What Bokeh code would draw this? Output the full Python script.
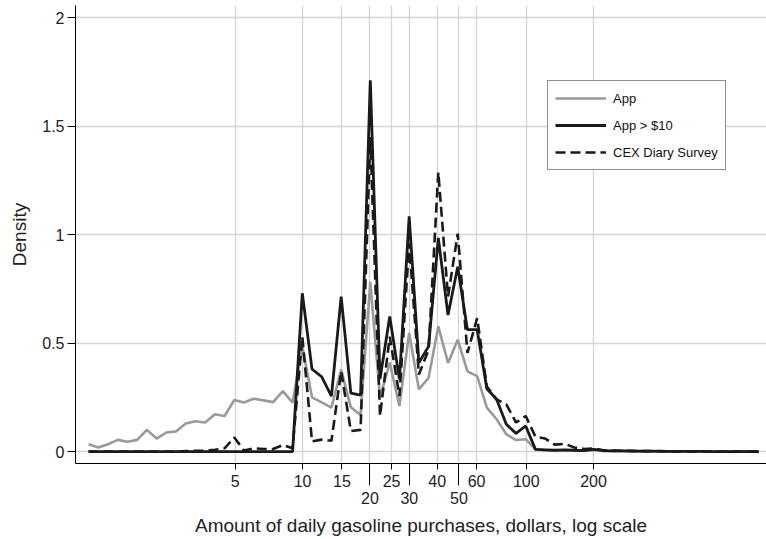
import numpy as np
from bokeh.plotting import figure
from bokeh.models import FixedTicker, Range1d
from bokeh.embed import file_html
from bokeh.resources import INLINE

# bins on natural-log scale of dollar amount
log_amount = [0.1, 0.2, 0.3, 0.4, 0.5, 0.6, 0.7, 0.8, 0.9, 1.0,
              1.1, 1.2, 1.3, 1.4, 1.5, 1.6, 1.7, 1.8, 1.9, 2.0,
              2.1, 2.2, 2.3, 2.4, 2.5, 2.6, 2.7, 2.8, 2.9, 3.0,
              3.1, 3.2, 3.3, 3.4, 3.5, 3.6, 3.7, 3.8, 3.9, 4.0,
              4.1, 4.2, 4.3, 4.4, 4.5, 4.6, 4.7, 4.8, 4.9, 5.0,
              5.1, 5.2, 5.3, 5.4, 5.5, 5.6, 5.7, 5.8, 5.9, 6.0,
              6.1, 6.2, 6.3, 6.4, 6.5, 6.6, 6.7, 6.8, 6.9, 7.0]

app = [0.034, 0.019, 0.034, 0.054, 0.045, 0.054, 0.100, 0.060, 0.088, 0.093,
       0.129, 0.140, 0.134, 0.172, 0.164, 0.238, 0.226, 0.244, 0.236, 0.228,
       0.279, 0.226, 0.485, 0.250, 0.227, 0.203, 0.378, 0.204, 0.169, 0.783,
       0.250, 0.410, 0.210, 0.547, 0.287, 0.340, 0.577, 0.409, 0.516, 0.370,
       0.348, 0.203, 0.149, 0.080, 0.053, 0.057, 0.010, 0.006, 0.005, 0.006,
       0.004, 0.004, 0.008, 0.003, 0.002, 0.002, 0.002, 0.001, 0.001, 0.001,
       0.001, 0.001, 0.001, 0.0, 0.0, 0.0, 0.0, 0.0, 0.0, 0.0]

app_over10 = [0.0, 0.0, 0.0, 0.0, 0.0, 0.0, 0.0, 0.0, 0.0, 0.0,
              0.0, 0.0, 0.0, 0.0, 0.0, 0.0, 0.0, 0.0, 0.0, 0.0,
              0.0, 0.0, 0.730, 0.380, 0.345, 0.256, 0.715, 0.270, 0.260, 1.712,
              0.335, 0.623, 0.333, 1.085, 0.410, 0.485, 0.985, 0.630, 0.852, 0.562,
              0.562, 0.290, 0.241, 0.126, 0.084, 0.118, 0.010, 0.008, 0.006, 0.008,
              0.006, 0.005, 0.010, 0.004, 0.003, 0.003, 0.002, 0.002, 0.002, 0.001,
              0.001, 0.001, 0.001, 0.001, 0.0, 0.0, 0.0, 0.0, 0.0, 0.0]

cex = [0.0, 0.0, 0.0, 0.0, 0.0, 0.0, 0.0, 0.0, 0.0, 0.0,
       0.002, 0.004, 0.004, 0.008, 0.015, 0.065, 0.005, 0.015, 0.012, 0.012,
       0.030, 0.015, 0.530, 0.047, 0.055, 0.050, 0.370, 0.095, 0.100, 1.450,
       0.164, 0.530, 0.256, 0.960, 0.355, 0.470, 1.288, 0.715, 1.005, 0.455,
       0.615, 0.300, 0.240, 0.218, 0.134, 0.164, 0.068, 0.060, 0.032, 0.036,
       0.019, 0.012, 0.015, 0.006, 0.005, 0.004, 0.003, 0.002, 0.002, 0.002,
       0.001, 0.001, 0.001, 0.001, 0.0, 0.0, 0.0, 0.0, 0.0, 0.0]

x_ticks = [5, 10, 15, 20, 25, 30, 40, 50, 60, 100, 200]
x_tick_labels = ["5", "10", "15", "\n20", "25", "\n30", "40", "\n50", "60", "100", "200"]
x_low_row_ticks = [20, 30, 50]
y_ticks = [0, 0.5, 1, 1.5, 2]
y_tick_labels = ["0", "0.5", "1", "1.5", "2"]

FONT = "Liberation Sans"

amount = np.exp(np.array(log_amount))

p = figure(width=766, height=539, x_axis_type="log",
           x_range=Range1d(0.966, 1186), y_range=Range1d(-0.055, 2.057),
           output_backend="svg", toolbar_location=None,
           min_border_left=75, min_border_right=0, min_border_top=5, min_border_bottom=74)

p.outline_line_color = None
p.background_fill_color = "white"
p.border_fill_color = "white"

# grids
p.xgrid.ticker = FixedTicker(ticks=x_ticks)
p.ygrid.ticker = FixedTicker(ticks=y_ticks)
for g in (p.xgrid, p.ygrid):
    g.grid_line_color = "#d4d4d4"
    g.grid_line_width = 1.3

# x axis
xa = p.xaxis[0]
xa.ticker = FixedTicker(ticks=x_ticks, minor_ticks=x_low_row_ticks)
xa.major_label_overrides = {float(t): lab for t, lab in zip(x_ticks, x_tick_labels)}
xa.major_label_overrides.update({t: lab for t, lab in zip(x_ticks, x_tick_labels)})
xa.major_tick_out = 6
xa.major_tick_in = 0
xa.minor_tick_out = 22
xa.minor_tick_in = 0
xa.major_tick_line_color = "black"
xa.minor_tick_line_color = "black"
xa.axis_line_color = "black"
xa.axis_line_width = 1
xa.major_label_text_font = FONT
xa.major_label_text_font_size = "16px"
xa.major_label_text_color = "#222222"
xa.major_label_text_line_height = 1.05
xa.major_label_standoff = -13
xa.axis_label = "Amount of daily gasoline purchases, dollars, log scale"
xa.axis_label_text_font = FONT
xa.axis_label_text_font_size = "19px"
xa.axis_label_text_font_style = "normal"
xa.axis_label_text_color = "#222222"
xa.axis_label_standoff = 5

# y axis
ya = p.yaxis[0]
ya.ticker = FixedTicker(ticks=y_ticks)
ya.major_label_overrides = {t: lab for t, lab in zip(y_ticks, y_tick_labels)}
ya.major_label_overrides.update({float(t): lab for t, lab in zip(y_ticks, y_tick_labels)})
ya.major_tick_out = 8
ya.major_tick_in = 0
ya.minor_tick_line_color = None
ya.axis_line_color = "black"
ya.major_label_text_font = FONT
ya.major_label_text_font_size = "16px"
ya.major_label_text_color = "#222222"
ya.major_label_standoff = 3
ya.axis_label = "Density"
ya.axis_label_text_font = FONT
ya.axis_label_text_font_size = "19px"
ya.axis_label_text_font_style = "normal"
ya.axis_label_text_color = "#222222"
ya.axis_label_standoff = 9

p.line(amount, app, line_color="#9a9a9a", line_width=2.6, legend_label="App")
p.line(amount, app_over10, line_color="#1a1a1a", line_width=2.8, legend_label="App > $10")
p.line(amount, cex, line_color="#1a1a1a", line_width=2.6, line_dash="10 5",
       legend_label="CEX Diary Survey")

lg = p.legend[0]
lg.location = (472, 293)
lg.border_line_color = "#222222"
lg.border_line_width = 1
lg.background_fill_color = "white"
lg.background_fill_alpha = 1
lg.label_text_font = FONT
lg.label_text_font_size = "13px"
lg.label_text_color = "#111111"
lg.glyph_width = 51
lg.glyph_height = 20
lg.label_height = 20
lg.spacing = 7
lg.padding = 7
lg.margin = 0
lg.label_standoff = 7

open("out.html", "w").write(file_html(p, INLINE))
